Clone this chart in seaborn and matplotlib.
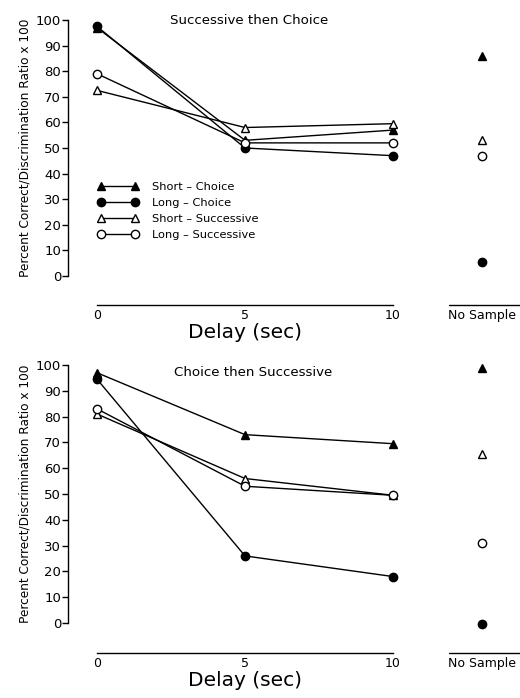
import matplotlib
matplotlib.use("Agg")
import matplotlib.pyplot as plt
import seaborn as sns
from matplotlib.lines import Line2D

# delays (sec) and where the "No Sample" column sits on the x scale
delays = [0, 5, 10]
no_sample_x = 13

series = ["Short – Choice", "Long – Choice", "Short – Successive", "Long – Successive"]

# Panel 1: Successive then Choice
succ_choice = {
    "Short – Choice": [97, 53, 57],
    "Long – Choice": [97.5, 50, 47],
    "Short – Successive": [72.5, 58, 59.5],
    "Long – Successive": [79, 52, 52],
}
succ_choice_nosample = {
    "Short – Choice": 86,
    "Long – Choice": 5.5,
    "Short – Successive": 53,
    "Long – Successive": 47,
}

# Panel 2: Choice then Successive
choice_succ = {
    "Short – Choice": [97, 73, 69.5],
    "Long – Choice": [94.5, 26, 18],
    "Short – Successive": [81, 56, 49.5],
    "Long – Successive": [83, 53, 49.5],
}
choice_succ_nosample = {
    "Short – Choice": 99,
    "Long – Choice": -0.5,
    "Short – Successive": 65.5,
    "Long – Successive": 31,
}

# marker style per series
styles = {
    "Short – Choice": dict(marker="^", mfc="black"),
    "Long – Choice": dict(marker="o", mfc="black"),
    "Short – Successive": dict(marker="^", mfc="white"),
    "Long – Successive": dict(marker="o", mfc="white"),
}
MS = 6

sns.set_style("ticks")
plt.rcParams["font.family"] = ["DejaVu Sans"]
for k in ["text.color", "axes.labelcolor", "xtick.color", "ytick.color", "axes.edgecolor"]:
    plt.rcParams[k] = "black"

fig = plt.figure(figsize=(5.2, 6.98), dpi=100)
ax_top = fig.add_axes([68 / 520, 1 - 276 / 698, 452 / 520, 256 / 698])
ax_bot = fig.add_axes([68 / 520, 1 - 623 / 698, 452 / 520, 258 / 698])


def draw_panel(ax, data, nosample, title, outward_px):
    for name in series:
        st = styles[name]
        sns.lineplot(x=delays, y=data[name], ax=ax, color="black", lw=1,
                     marker=st["marker"], markersize=MS, markerfacecolor=st["mfc"],
                     markeredgecolor="black", markeredgewidth=1, clip_on=False,
                     zorder=3)
        ax.plot([no_sample_x], [nosample[name]], linestyle="none", marker=st["marker"],
                markersize=MS, markerfacecolor=st["mfc"], markeredgecolor="black",
                markeredgewidth=1, clip_on=False, zorder=3)

    ax.set_xlim(-0.98, 14.29)
    ax.set_ylim(0, 100)
    ax.set_yticks(range(0, 101, 10))
    ax.set_xticks([0, 5, 10, no_sample_x])
    ax.set_xticklabels(["0", "5", "10", "No Sample"])
    ax.tick_params(axis="y", length=4, width=1, labelsize=9.5, pad=1)
    ax.tick_params(axis="x", length=0, labelsize=9, pad=3)

    for s in ["top", "right"]:
        ax.spines[s].set_visible(False)
    ax.spines["left"].set_linewidth(1)
    ax.spines["bottom"].set_position(("outward", outward_px * 72 / 100))
    ax.spines["bottom"].set_bounds(0, 10)
    ax.spines["bottom"].set_linewidth(1)

    # separate axis line under the "No Sample" column
    h = ax.get_position().height * 698
    ax.plot([11.9, 14.3], [-outward_px / h] * 2, color="black", lw=1,
            transform=ax.get_xaxis_transform(), clip_on=False)

    ax.set_xlabel("Delay (sec)", fontsize=14.5)
    ax.xaxis.set_label_coords((5.0 + 0.98) / 15.27, -(outward_px + 18) / h)
    ax.set_ylabel("Percent Correct/Discrimination Ratio x 100", fontsize=8.7, labelpad=3)
    ax.text(0.40, 1.0, title, transform=ax.transAxes, ha="center", va="center", fontsize=9.6)
    return ax


draw_panel(ax_top, succ_choice, succ_choice_nosample, "Successive then Choice", 29)
draw_panel(ax_bot, choice_succ, choice_succ_nosample, "Choice then Successive", 30)
ax_bot.texts[0].set_position((0.41, 0.97))

handles = [Line2D([], [], color="black", lw=1, marker=styles[n]["marker"], markersize=MS,
                  markerfacecolor=styles[n]["mfc"], markeredgecolor="black")
           for n in series]
ax_top.legend(handles, series, loc="upper left", bbox_to_anchor=(0.066, 0.366),
              frameon=False, numpoints=2, handlelength=3.6, handletextpad=1.2,
              labelspacing=0.52, fontsize=8.2, borderpad=0, borderaxespad=0)

fig.savefig("out.png", dpi=100)
